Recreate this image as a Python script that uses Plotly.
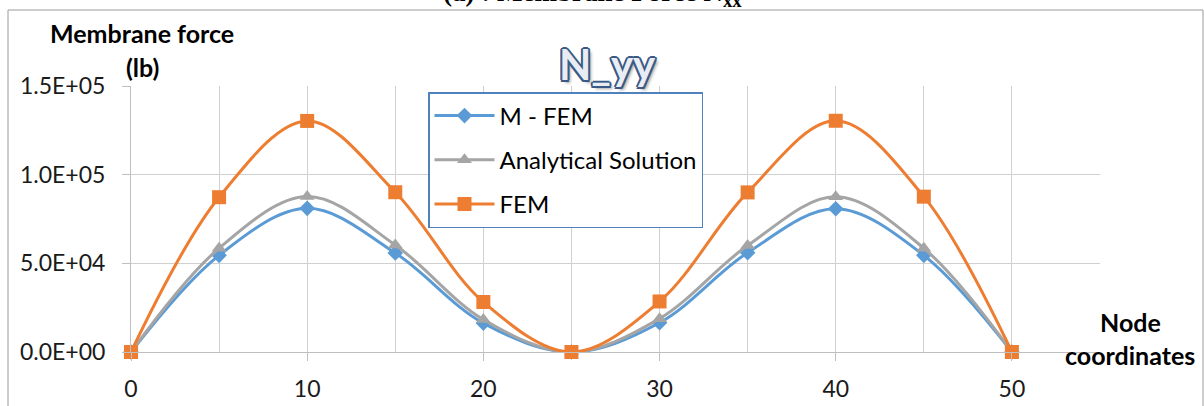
import plotly.graph_objects as go

# Node coordinates along the section
nodes = [0, 5, 10, 15, 20, 25, 30, 35, 40, 45, 50]

# Membrane force N_yy (lb) for each method
m_fem = [0, 54500, 81000, 55800, 16300, 0, 16500, 56000, 80800, 54500, 0]
analytical = [0, 58500, 87700, 60300, 18300, 0, 18800, 60000, 87500, 58500, 0]
fem = [0, 87300, 130300, 90100, 28200, 0, 28500, 90000, 130400, 87600, 0]

y_tick_vals = [0, 50000, 100000, 150000]
y_tick_text = ["0.0E+00", "5.0E+04", "1.0E+05", "1.5E+05"]

FONT = "Lato"
BLUE = "#5B9BD5"
GRAY = "#A5A5A5"
ORANGE = "#ED7D31"
GRID = "#D0D0D0"

W, H = 1204, 406
L, R, T, B = 131, 104, 86, 54
PW, PH = W - L - R, H - T - B


def px(x):
    return (x - L) / PW


def py(y):
    return (H - B - y) / PH


fig = go.Figure()

series = [
    ("M - FEM", m_fem, BLUE, "diamond", 12),
    ("Analytical Solution", analytical, GRAY, "triangle-up", 13),
    ("FEM", fem, ORANGE, "square", 14),
]
for i, (name, vals, color, symbol, size) in enumerate(series):
    fig.add_trace(go.Scatter(
        x=nodes, y=vals, name=name, mode="lines+markers",
        legendgroup=f"g{i}",
        line=dict(color=color, width=3, shape="spline", smoothing=1.0),
        marker=dict(symbol=symbol, size=size, color=color),
        cliponaxis=False,
    ))

axis_common = dict(
    showline=True, linecolor="#BFBFBF", linewidth=1,
    showgrid=True, gridcolor=GRID, gridwidth=1,
    ticks="outside", ticklen=8, tickcolor="#BFBFBF",
    tickfont=dict(family=FONT, size=23, color="#1A1A1A"),
    zeroline=False, automargin=False,
)

fig.update_xaxes(
    range=[0, 55], tickvals=[0, 10, 20, 30, 40, 50],
    minor=dict(dtick=5, showgrid=True, gridcolor=GRID, ticks=""),
    ticklabelstandoff=8, **axis_common,
)
fig.update_yaxes(
    range=[0, 150000], tickvals=y_tick_vals, ticktext=y_tick_text,
    ticklabelstandoff=12, **axis_common,
)

annotations = [
    dict(text="<b>Membrane force</b>", x=px(142), y=py(33)),
    dict(text="<b>(lb)</b>", x=px(142), y=py(67)),
    dict(text="<b>Node</b>", x=px(1130), y=py(322)),
    dict(text="<b>coordinates</b>", x=px(1130), y=py(355)),
]
for a in annotations:
    fig.add_annotation(
        text=a["text"], x=a["x"], y=a["y"], xref="paper", yref="paper",
        xanchor="center", yanchor="middle", showarrow=False,
        font=dict(family=FONT, size=25, color="#000000"),
    )

# outlined chart title
outline = "#3A5A85"
shadow = ", ".join(
    f"{dx}px {dy}px 0 {outline}"
    for dx, dy in [(-2, 0), (2, 0), (0, -2), (0, 2), (-1.5, -1.5), (1.5, -1.5),
                   (-1.5, 1.5), (1.5, 1.5)]
) + ", 3px 3px 3px rgba(0,0,0,0.35)"
fig.add_annotation(
    text="<b>N_yy</b>", x=px(607), y=py(64), xref="paper", yref="paper",
    xanchor="center", yanchor="middle", showarrow=False,
    font=dict(family=FONT, size=42, color="#E9EDF3", shadow=shadow),
)

# figure caption running off the top edge
fig.add_annotation(
    text="<b>(a) : Membrane Force N<sub>xx</sub></b>", x=px(592), y=py(13),
    xref="paper", yref="paper", xanchor="center", yanchor="bottom",
    showarrow=False,
    font=dict(family="Liberation Serif", size=27, color="#000000"),
)

# outer chart frame
fig.add_shape(
    type="rect", xref="paper", yref="paper",
    x0=px(8), x1=px(1203), y0=py(420), y1=py(10),
    line=dict(color="#9A9A9A", width=1), fillcolor="rgba(0,0,0,0)",
    layer="above",
)

fig.update_layout(
    width=W, height=H,
    margin=dict(l=L, r=R, t=T, b=B, pad=0, autoexpand=False),
    paper_bgcolor="white", plot_bgcolor="white",
    showlegend=True,
    legend=dict(
        x=px(428), y=py(92), xanchor="left", yanchor="top",
        bgcolor="white", bordercolor="#4F81BD", borderwidth=1.5,
        font=dict(family=FONT, size=24, color="#000000"),
        itemwidth=60, tracegroupgap=10,
    ),
)

fig.write_html("out.html")
